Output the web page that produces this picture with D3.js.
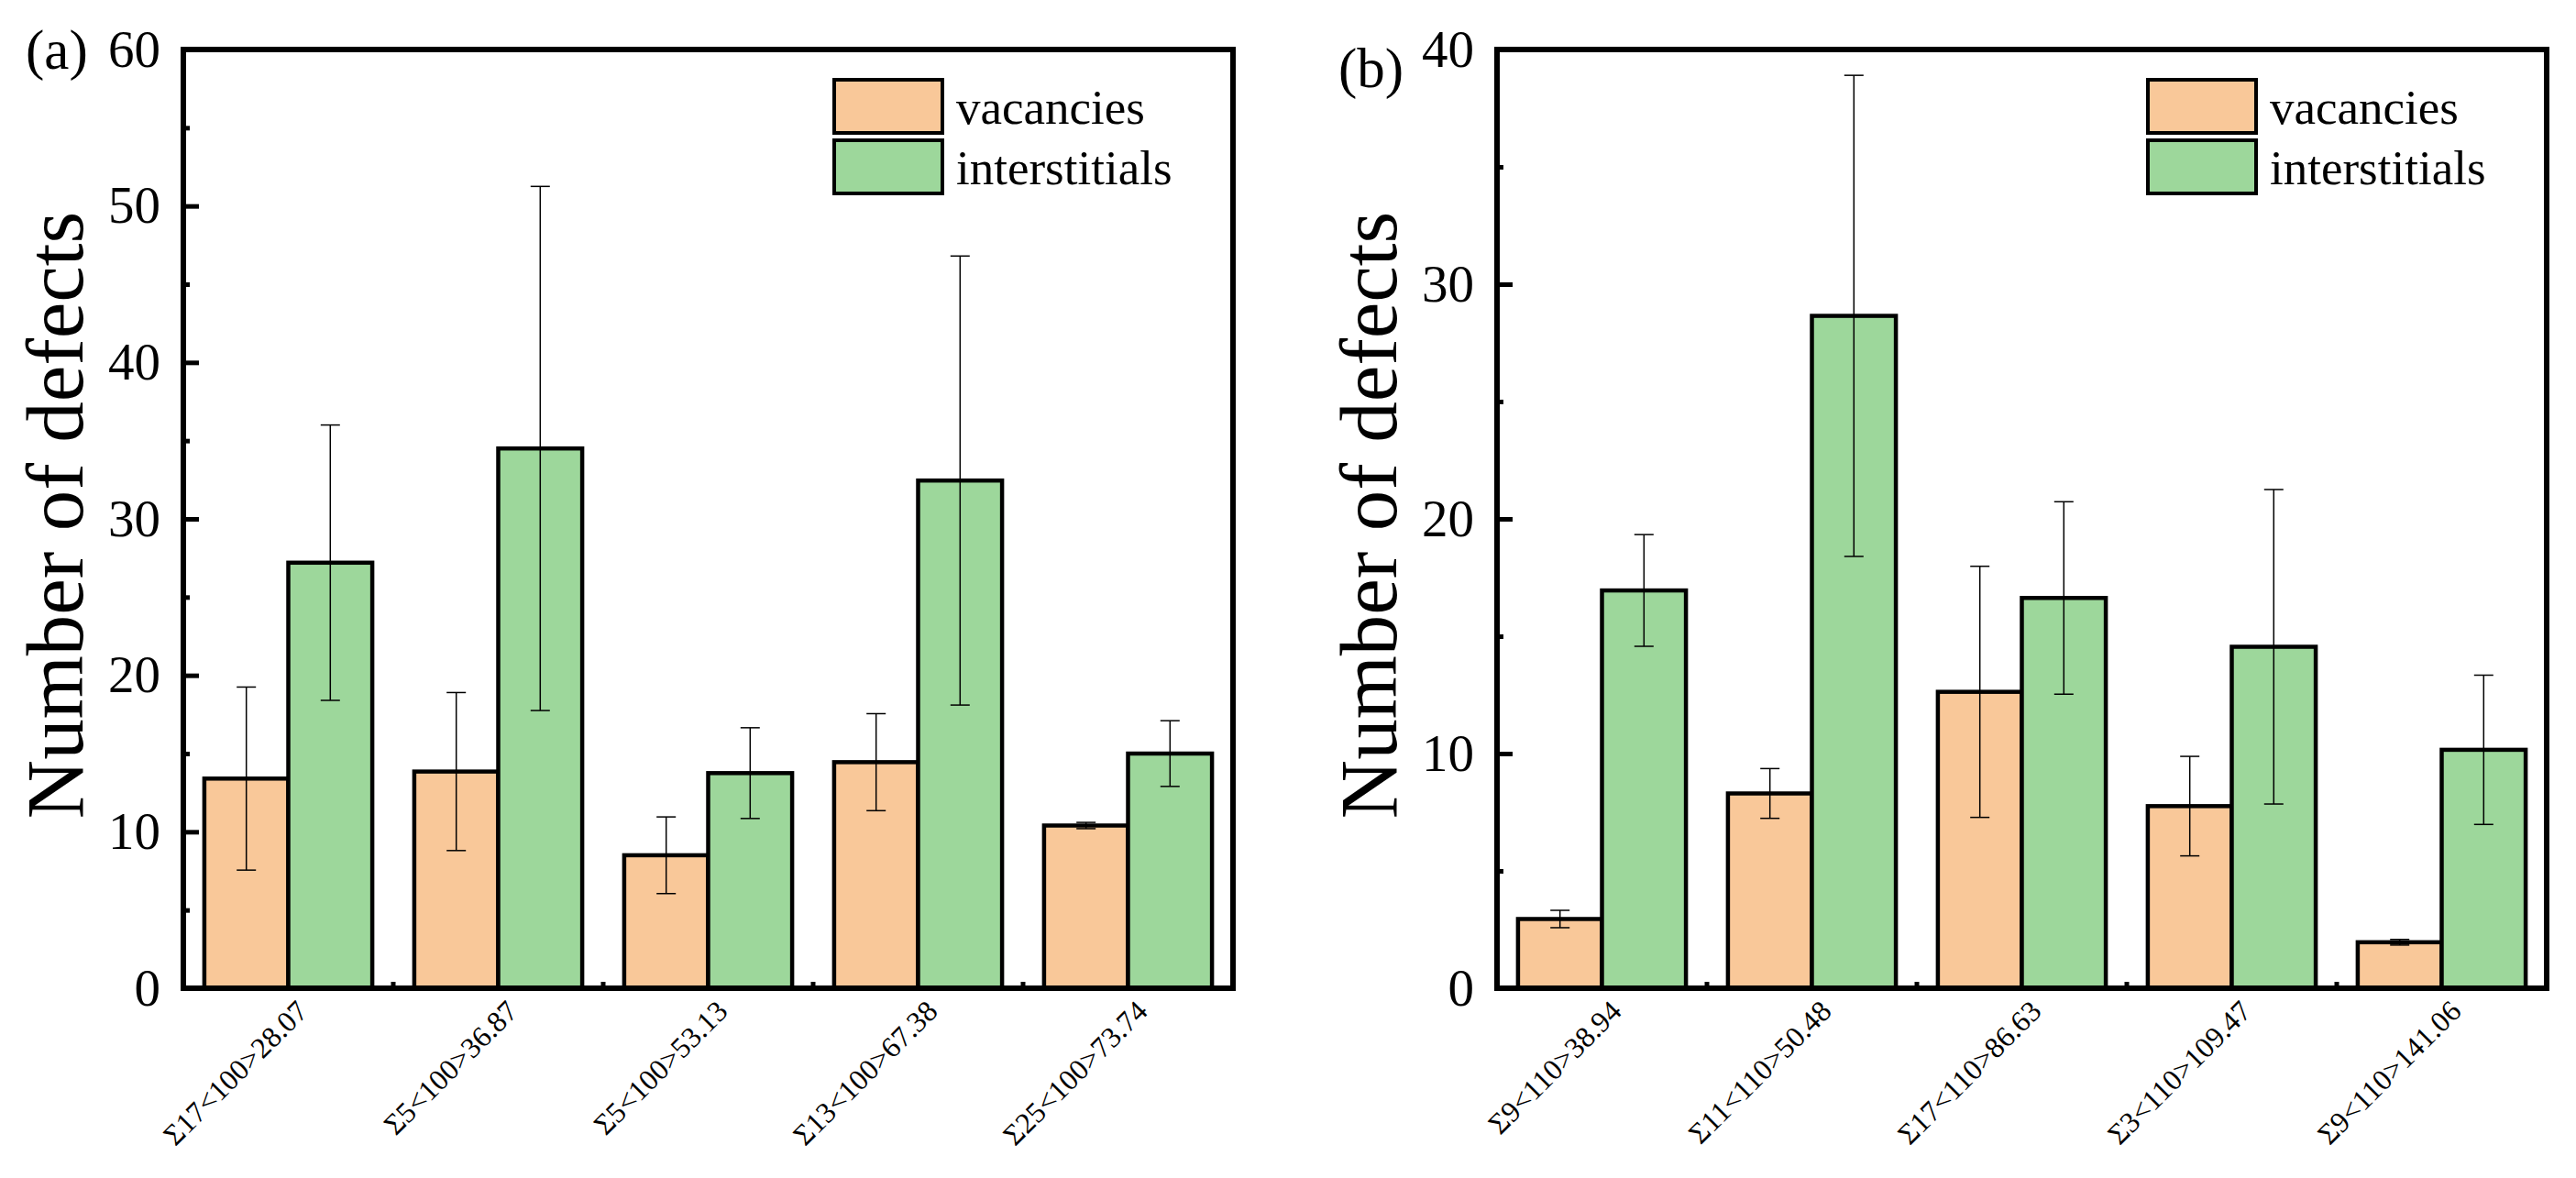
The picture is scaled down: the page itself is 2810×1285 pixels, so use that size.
<!DOCTYPE html>
<html>
<head>
<meta charset="utf-8">
<script src="https://cdn.jsdelivr.net/npm/d3@7"></script>
<style>
    body { margin: 0; background: #fff; }
    svg { display: block; }
    svg text { font-family: "Liberation Serif", "Times New Roman", serif; fill: #000; }
</style>
</head>
<body>
<svg id="chart" width="2810" height="1285"></svg>
<script>
// Data
const seriesNames = ["vacancies", "interstitials"]
const seriesColors = ["#F9C899", "#9DD79B"]

const labelsA = ["Σ17<100>28.07", "Σ5<100>36.87", "Σ5<100>53.13", "Σ13<100>67.38", "Σ25<100>73.74"]
const vacanciesA = [13.4, 13.85, 8.5, 14.45, 10.4]
const vacanciesErrA = [5.85, 5.05, 2.45, 3.1, 0.2]
const interstitialsA = [27.2, 34.5, 13.75, 32.45, 15.0]
const interstitialsErrA = [8.8, 16.75, 2.9, 14.35, 2.1]
const yTicksA = [0, 10, 20, 30, 40, 50, 60]

const labelsB = ["Σ9<110>38.94", "Σ11<110>50.48", "Σ17<110>86.63", "Σ3<110>109.47", "Σ9<110>141.06"]
const vacanciesB = [2.95, 8.3, 12.63, 7.76, 1.96]
const vacanciesErrB = [0.37, 1.06, 5.35, 2.12, 0.12]
const interstitialsB = [16.95, 28.65, 16.63, 14.55, 10.16]
const interstitialsErrB = [2.38, 10.25, 4.1, 6.7, 3.18]
const yTicksB = [0, 10, 20, 30, 40]

const FONT = "Liberation Serif"
const svg = d3.select("#chart")

function drawPanel(opts) {
    const left = opts.left, right = opts.left + 1145
    const top = 54, bottom = 1078
    const g = svg.append("g")

    const x = d3.scaleBand().domain(opts.labels).range([left, right])
        .paddingInner(0.2).paddingOuter(0.1)
    const xs = d3.scaleBand().domain(seriesNames).range([0, x.bandwidth()])
    const yMax = d3.max(opts.yTicks)
    const y = d3.scaleLinear().domain([0, yMax]).range([bottom, top])

    const rows = opts.labels.map((lab, i) => ({
        label: lab,
        values: [
            { s: seriesNames[0], v: opts.vac[i], e: opts.vacErr[i] },
            { s: seriesNames[1], v: opts.int[i], e: opts.intErr[i] }
        ]
    }))

    // y axis, ticks point inward
    const yAxis = g.append("g").attr("transform", `translate(${left},0)`)
        .call(d3.axisLeft(y).tickValues(opts.yTicks).tickSize(-17).tickPadding(25).tickFormat(d3.format("d")))
    yAxis.attr("font-family", FONT)
    yAxis.select(".domain").remove()
    yAxis.selectAll("line").attr("stroke-width", 5)
    yAxis.selectAll("text").attr("font-size", 57).attr("font-family", FONT).attr("fill", "#000")

    const minorY = d3.range(5, yMax, 10)
    const yMinor = g.append("g").attr("transform", `translate(${left},0)`)
        .call(d3.axisLeft(y).tickValues(minorY).tickSize(-7).tickFormat(""))
    yMinor.select(".domain").remove()
    yMinor.selectAll("line").attr("stroke-width", 5)

    // x minor ticks between groups
    const bounds = opts.labels.slice(0, -1).map(d => x(d) + x.bandwidth() + (x.step() - x.bandwidth()) / 2)
    g.selectAll(".xminor").data(bounds).enter().append("line")
        .attr("x1", d => d).attr("x2", d => d)
        .attr("y1", bottom).attr("y2", bottom - 7)
        .attr("stroke", "#000").attr("stroke-width", 5)

    // bars
    const groups = g.selectAll(".grp").data(rows).enter().append("g")
        .attr("transform", d => `translate(${x(d.label)},0)`)
    groups.selectAll("rect").data(d => d.values).enter().append("rect")
        .attr("x", d => xs(d.s))
        .attr("y", d => y(d.v))
        .attr("width", xs.bandwidth())
        .attr("height", d => bottom - y(d.v))
        .attr("fill", (d, i) => seriesColors[i])
        .attr("stroke", "#000").attr("stroke-width", 4.5)

    // error bars
    const eb = groups.selectAll(".err").data(d => d.values).enter().append("g")
        .attr("transform", d => `translate(${xs(d.s) + xs.bandwidth() / 2},0)`)
        .attr("stroke", "#000").attr("stroke-width", 1.5)
    eb.append("line").attr("x1", 0).attr("x2", 0)
        .attr("y1", d => y(d.v + d.e)).attr("y2", d => y(d.v - d.e))
    eb.append("line").attr("x1", -10.5).attr("x2", 10.5)
        .attr("y1", d => y(d.v + d.e)).attr("y2", d => y(d.v + d.e))
    eb.append("line").attr("x1", -10.5).attr("x2", 10.5)
        .attr("y1", d => y(d.v - d.e)).attr("y2", d => y(d.v - d.e))

    // frame
    g.append("rect").attr("x", left).attr("y", top)
        .attr("width", right - left).attr("height", bottom - top)
        .attr("fill", "none").attr("stroke", "#000").attr("stroke-width", 6)

    // category labels
    g.selectAll(".xlab").data(opts.labels).enter().append("text")
        .attr("transform", d => `translate(${x(d) + x.bandwidth() / 2 + 23},1105) rotate(-45)`)
        .attr("text-anchor", "end")
        .attr("font-family", FONT)
        .attr("font-size", 32)
        .text(d => d)

    // y title
    g.append("text")
        .attr("transform", `translate(${left - 110},562) rotate(-90)`)
        .attr("text-anchor", "middle")
        .attr("font-family", FONT)
        .attr("font-size", 89)
        .text("Number of defects")

    // panel tag
    g.append("text").attr("x", opts.tagX).attr("y", opts.tagY)
        .attr("font-family", FONT)
        .attr("font-size", 61).text(opts.tag)

    // legend
    const lg = g.append("g").attr("transform", `translate(${left + 710},87)`)
    seriesNames.forEach((name, i) => {
        lg.append("rect").attr("x", 0).attr("y", i * 66)
            .attr("width", 118).attr("height", 58)
            .attr("fill", seriesColors[i]).attr("stroke", "#000").attr("stroke-width", 4)
        lg.append("text").attr("x", 133).attr("y", i * 66 + 48)
            .attr("font-family", FONT)
            .attr("font-size", 53).text(name)
    })
}

drawPanel({ left: 200, labels: labelsA, vac: vacanciesA, vacErr: vacanciesErrA,
    int: interstitialsA, intErr: interstitialsErrA, yTicks: yTicksA, tag: "(a)", tagX: 28, tagY: 75 })
drawPanel({ left: 1633, labels: labelsB, vac: vacanciesB, vacErr: vacanciesErrB,
    int: interstitialsB, intErr: interstitialsErrB, yTicks: yTicksB, tag: "(b)", tagX: 1460, tagY: 95 })
</script>
</body>
</html>
